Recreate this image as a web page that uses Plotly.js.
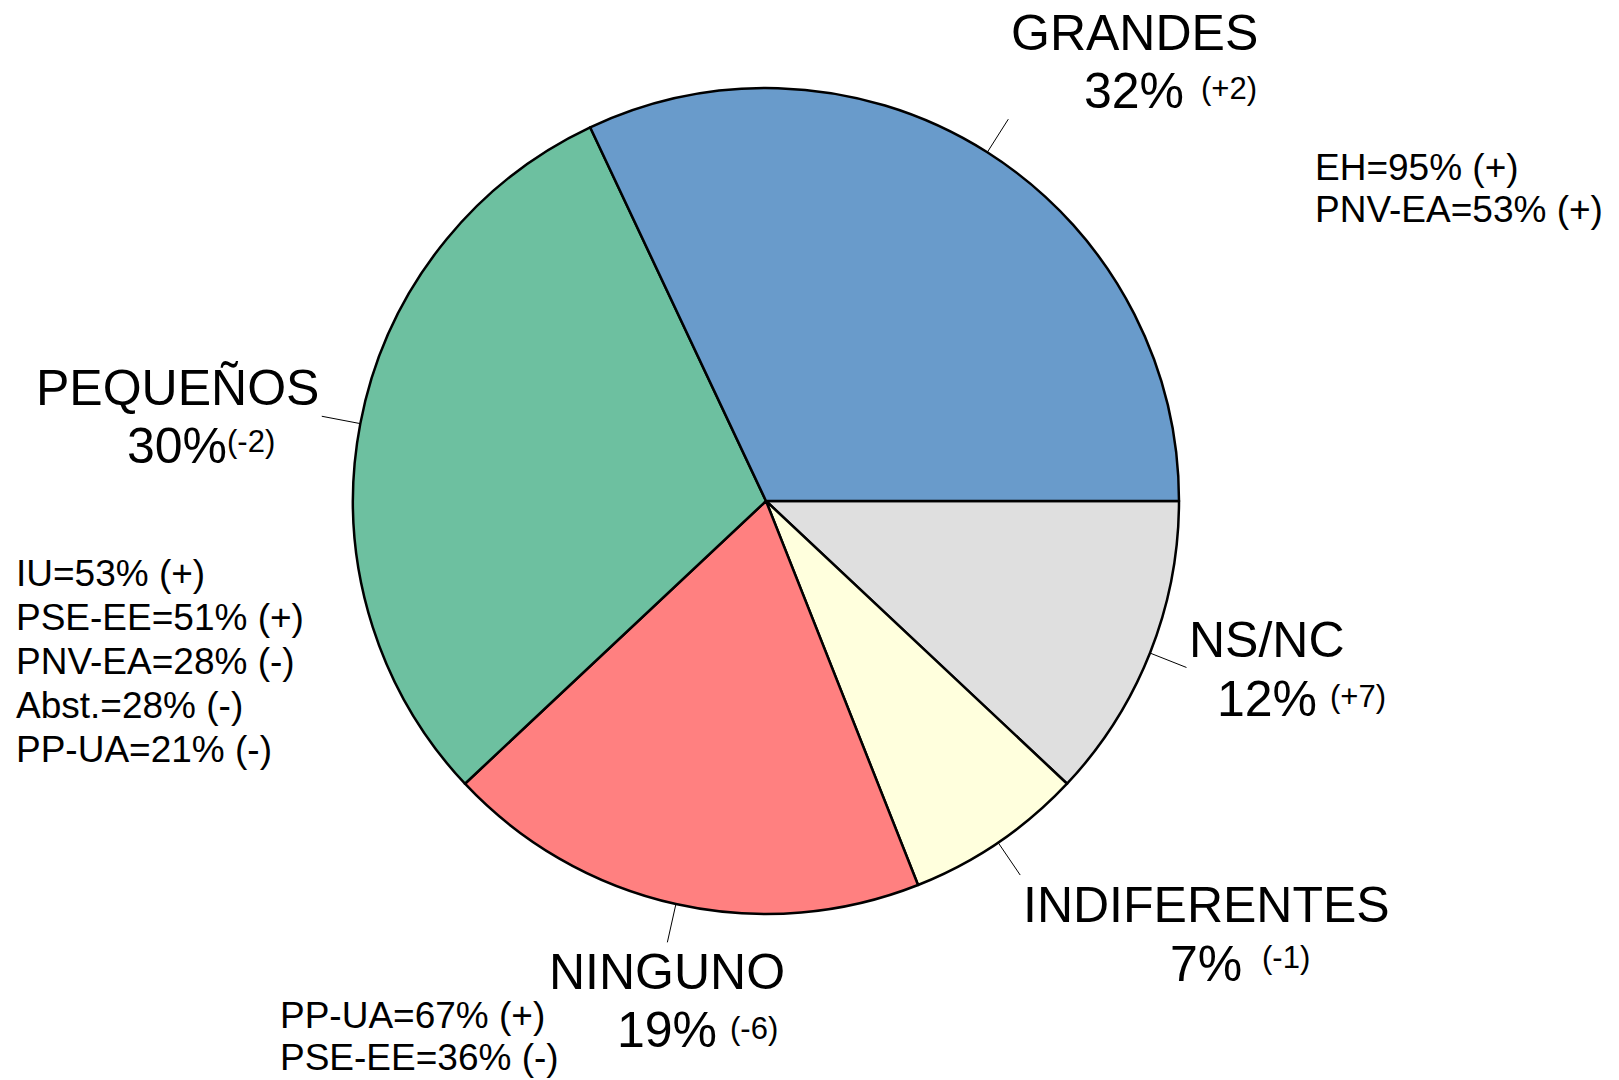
<!DOCTYPE html>
<html>
<head>
<meta charset="utf-8">
<script src="https://cdn.plot.ly/plotly-3.0.1.min.js"></script>
<style>
html,body{margin:0;padding:0;background:#fff;}
#chart{width:1619px;height:1080px;}
</style>
</head>
<body>
<div id="chart"></div>
<script>
// ---- Data ----
const categories = ['GRANDES', 'PEQUEÑOS', 'NINGUNO', 'INDIFERENTES', 'NS/NC'];
const shares = [32, 30, 19, 7, 12];
const changes = ['(+2)', '(-2)', '(-6)', '(-1)', '(+7)'];
const sliceColors = ['#699BCB', '#6DC0A0', '#FF8080', '#FFFFDD', '#DFDFDF'];
const grandesNotes = ['EH=95% (+)', 'PNV-EA=53% (+)'];
const pequenosNotes = ['IU=53% (+)', 'PSE-EE=51% (+)', 'PNV-EA=28% (-)', 'Abst.=28% (-)', 'PP-UA=21% (-)'];
const ningunoNotes = ['PP-UA=67% (+)', 'PSE-EE=36% (-)'];

// ---- Layout geometry (pixels) ----
const W = 1619, H = 1080;
const CX = 766, CY = 501, R = 413;
const FONT = 'Liberation Sans, Arial, sans-serif';
const px = x => x / W;
const py = y => 1 - y / H;

// label positions: [name center x, name y, pct y, change left x, change y]
const labelPos = [
  [1134, 33, 91, 1199, 89],
  [177, 388, 446, 225, 441],
  [667, 972, 1030, 728, 1028],
  [1206, 905, 964, 1260, 957],
  [1267, 640, 699, 1328, 696]
];
const notesPos = [
  {x: 1313, y0: 167, dy: 43, items: grandesNotes},
  {x: 14, y0: 573, dy: 44, items: pequenosNotes},
  {x: 278, y0: 1015, dy: 42, items: ningunoNotes}
];

// Pie drawn clockwise from 3 o'clock with reversed order (= counterclockwise in data order)
const rev = a => a.slice().reverse();
const trace = {
  type: 'pie',
  labels: rev(categories),
  values: rev(shares),
  sort: false,
  direction: 'clockwise',
  rotation: 90,
  textinfo: 'none',
  hoverinfo: 'none',
  marker: {colors: rev(sliceColors), line: {color: '#000', width: 2.5}},
  domain: {x: [px(CX - R), px(CX + R)], y: [py(CY + R), py(CY - R)]},
  showlegend: false
};

const annotations = [];
const shapes = [];
const total = shares.reduce((a, b) => a + b, 0);
let cum = 0;
categories.forEach((name, i) => {
  const p = labelPos[i];
  annotations.push({x: px(p[0]), y: py(p[1]), xref: 'paper', yref: 'paper', showarrow: false,
    xanchor: 'center', yanchor: 'middle', text: name, font: {family: FONT, size: 50, color: '#000'}});
  annotations.push({x: px(p[0]), y: py(p[2]), xref: 'paper', yref: 'paper', showarrow: false,
    xanchor: 'center', yanchor: 'middle', text: shares[i] + '%', font: {family: FONT, size: 50, color: '#000'}});
  annotations.push({x: px(p[3]), y: py(p[4]), xref: 'paper', yref: 'paper', showarrow: false,
    xanchor: 'left', yanchor: 'middle', text: changes[i], font: {family: FONT, size: 31, color: '#000'}});
  // leader line at mid-angle of slice
  const mid = (cum + shares[i] / 2) / total * 2 * Math.PI;
  cum += shares[i];
  const c = Math.cos(mid), s = Math.sin(mid);
  shapes.push({type: 'line', xref: 'paper', yref: 'paper',
    x0: px(CX + R * c), y0: py(CY - R * s),
    x1: px(CX + R * 1.095 * c), y1: py(CY - R * 1.095 * s),
    line: {color: '#000', width: 1}});
});
notesPos.forEach(g => {
  g.items.forEach((t, j) => {
    annotations.push({x: px(g.x), y: py(g.y0 + j * g.dy), xref: 'paper', yref: 'paper', showarrow: false,
      xanchor: 'left', yanchor: 'middle', text: t, font: {family: FONT, size: 37, color: '#000'}});
  });
});

const layout = {
  width: W, height: H,
  margin: {l: 0, r: 0, t: 0, b: 0},
  paper_bgcolor: '#fff', plot_bgcolor: '#fff',
  annotations: annotations,
  shapes: shapes,
  showlegend: false
};
Plotly.newPlot('chart', [trace], layout, {staticPlot: true, displayModeBar: false});
</script>
</body>
</html>
